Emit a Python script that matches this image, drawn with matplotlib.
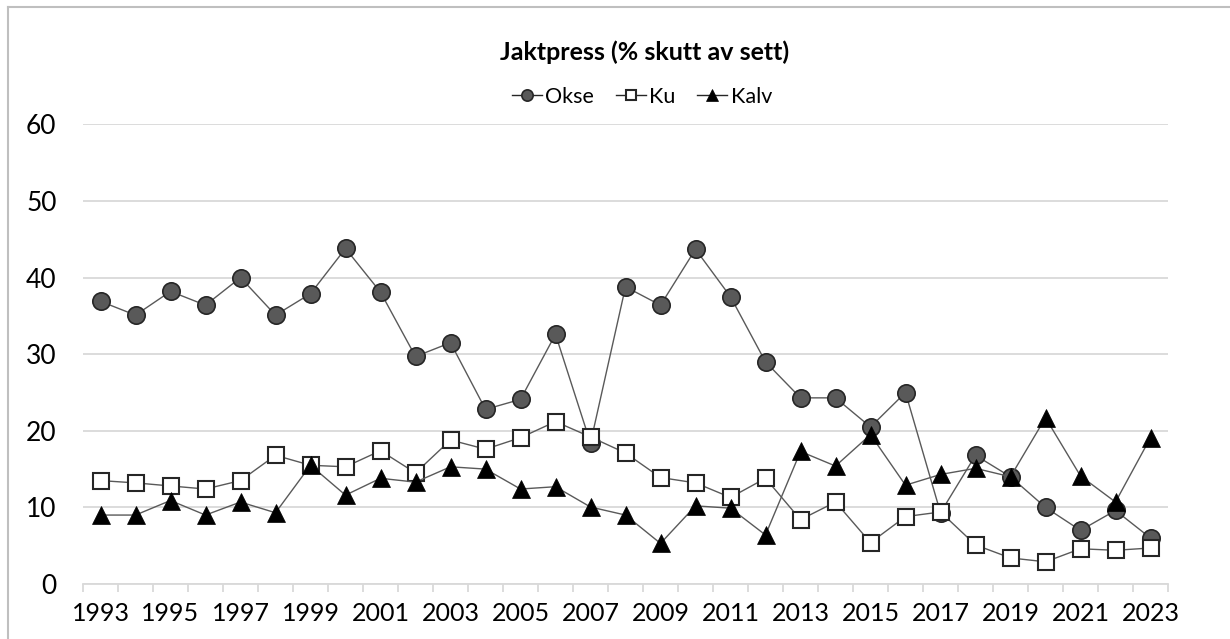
import matplotlib
matplotlib.use("Agg")
import matplotlib.pyplot as plt
from matplotlib.lines import Line2D
import numpy as np

years = list(range(1993, 2024))
okse = [36.9, 35.1, 38.2, 36.4, 40.0, 35.1, 37.9, 43.8, 38.1, 29.7,
        31.5, 22.8, 24.1, 32.6, 18.4, 38.8, 36.4, 43.7, 37.5, 29.0,
        24.3, 24.3, 20.5, 25.0, 9.3, 16.8, 14.0, 10.0, 7.0, 9.6, 6.0]
ku = [13.5, 13.2, 12.8, 12.4, 13.5, 16.8, 15.5, 15.3, 17.4, 14.5,
      18.8, 17.6, 19.1, 21.2, 19.2, 17.1, 13.9, 13.2, 11.3, 13.8,
      8.4, 10.7, 5.4, 8.8, 9.4, 5.1, 3.4, 2.9, 4.6, 4.4, 4.7]
kalv = [9.0, 9.0, 10.9, 9.0, 10.7, 9.3, 15.5, 11.6, 13.8, 13.3,
        15.3, 15.0, 12.4, 12.7, 10.05, 9.0, 5.3, 10.2, 9.9, 6.4,
        17.3, 15.4, 19.5, 12.9, 14.3, 15.1, 14.0, 21.7, 14.1, 10.7, 19.1]
yticks = [0, 10, 20, 30, 40, 50, 60]
title = "Jaktpress (% skutt av sett)"

plt.rcParams['font.family'] = ['Lato', 'DejaVu Sans']

fig = plt.figure(figsize=(12.3, 6.39), dpi=100)
ax = fig.add_axes([83/1230, 1-584/639, (1168-83)/1230, (584-124.4)/639])

x = np.arange(len(years))
line_col = '#595959'
ax.plot(x, okse, color=line_col, lw=1.0, marker='o', ms=12.5,
        mfc='#595959', mec='#262626', mew=1.2, label='Okse', zorder=3)
ax.plot(x, ku, color=line_col, lw=1.0, marker='s', ms=12,
        mfc='white', mec='#262626', mew=1.5, label='Ku', zorder=4)
ax.plot(x, kalv, color=line_col, lw=1.0, marker='^', ms=13,
        mfc='black', mec='black', mew=0.5, label='Kalv', zorder=5)

ax.set_xlim(-0.5, len(years) - 0.5)
ax.set_ylim(0, 60)
ax.set_yticks(yticks)
ax.set_yticklabels([str(v) for v in yticks])
ax.grid(axis='y', color='#d9d9d9', lw=1.3)
ax.set_axisbelow(True)

ax.set_xticks(x[::2])
ax.set_xticklabels([str(y) for y in years[::2]])
ax.set_xticks(np.arange(-0.5, len(years), 1.0), minor=True)
ax.tick_params(axis='x', which='major', length=0, pad=13, labelsize=18, colors='black')
ax.tick_params(axis='x', which='minor', length=6, width=1.3, color='#d9d9d9')
ax.tick_params(axis='y', length=0, pad=19, labelsize=19)

for s in ['top', 'right', 'left']:
    ax.spines[s].set_visible(False)
ax.spines['bottom'].set_color('#d9d9d9')
ax.spines['bottom'].set_linewidth(1.3)

fig.text(645/1230, 1-52/639, title, ha='center', va='center',
         fontsize=18, fontweight='bold')

leg = ax.legend(loc='center', bbox_to_anchor=(642/1230, 1-97/639),
                bbox_transform=fig.transFigure, ncol=3, frameon=False,
                fontsize=15.5, markerscale=0.65, handlelength=1.4,
                handletextpad=0.15, columnspacing=1.0, borderpad=0)
for h in leg.legend_handles:
    h.set_color('#262626')
leg.legend_handles[0].set_markerfacecolor('#595959')
leg.legend_handles[1].set_markerfacecolor('white')
leg.legend_handles[2].set_markerfacecolor('black')

# chart-area frame
fig.add_artist(Line2D([8/1230, 1.0], [1-7/639, 1-7/639], color='#bfbfbf', lw=1.5,
                      transform=fig.transFigure))
fig.add_artist(Line2D([8/1230, 8/1230], [1-7/639, 0.0], color='#bfbfbf', lw=1.5,
                      transform=fig.transFigure))

fig.savefig('out.png', dpi=100, facecolor='white')
